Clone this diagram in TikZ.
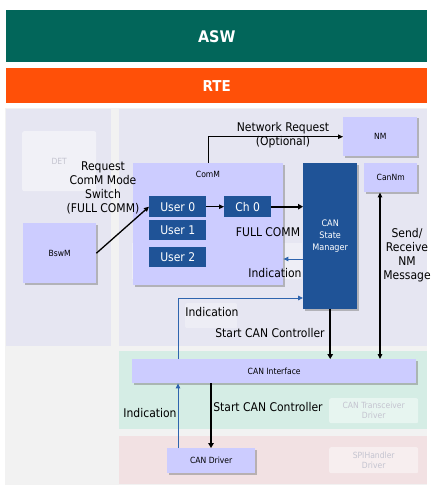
\documentclass[tikz,border=0pt]{standalone}
\usepackage{fontspec}
\setmainfont{DejaVu Sans Condensed}[BoldFont={DejaVu Sans Condensed Bold}]
\usetikzlibrary{arrows.meta,shadows}
\definecolor{aswc}{HTML}{02665A}
\definecolor{rtec}{HTML}{FF5008}
\definecolor{bgc}{HTML}{F2F2F2}
\definecolor{lav}{HTML}{E6E6F2}
\definecolor{grn}{HTML}{D5EDE5}
\definecolor{pnk}{HTML}{F2E1E3}
\definecolor{boxc}{HTML}{CCCCFF}
\definecolor{dblue}{HTML}{1F5397}
\definecolor{iblue}{HTML}{2E64AE}
\definecolor{fainttext}{HTML}{C4C4D0}
\begin{document}
\begin{tikzpicture}[x=1pt,y=-1pt,
  box/.style={fill=boxc, anchor=north west, inner sep=0pt, align=center,
    drop shadow={shadow xshift=1.3pt, shadow yshift=-1.3pt, fill=black!50, opacity=0.5},
    font=\fontsize{8.5}{10}\selectfont},
  dbox/.style={fill=dblue, text=white, anchor=north west, inner sep=0pt, align=center,
    font=\fontsize{12}{14}\selectfont},
  faint/.style={fill=white, fill opacity=0.45, text opacity=1, text=fainttext,
    rounded corners=2pt, anchor=north west, inner sep=0pt, align=center,
    font=\fontsize{8.5}{10}\selectfont},
  lbl/.style={font=\fontsize{12}{14}\selectfont, align=center, inner sep=0pt},
  blk/.style={draw=black, line width=1pt, -{Triangle[length=5pt,width=4.5pt]}},
  thk/.style={draw=black, line width=2pt, -{Triangle[length=5pt,width=5.5pt]}},
  ind/.style={draw=iblue, line width=0.9pt, -{Triangle[length=5pt,width=4.5pt]}}
]
\useasboundingbox (0,0) rectangle (437,497);
\fill[white] (0,0) rectangle (437,497);
% layers
\node[fill=aswc, anchor=north west, inner sep=0pt, minimum width=421pt, minimum height=52pt,
  text=white, font=\fontsize{16}{18}\selectfont\bfseries] (asw) at (6,10) {ASW};
\node[fill=rtec, anchor=north west, inner sep=0pt, minimum width=421pt, minimum height=35pt,
  text=white, font=\fontsize{15}{18}\selectfont\bfseries] (rte) at (6,68) {RTE};
\fill[bgc] (5,108) rectangle (427,485);
\fill[lav] (6,109) rectangle (111,346);
\fill[lav] (119,109) rectangle (427,346);
\fill[grn] (119,351) rectangle (427,429);
\fill[pnk] (119,436) rectangle (427,484);
% faint boxes
\node[faint, minimum width=74pt, minimum height=60pt] (det) at (22,131) {DET};
\fill[white, opacity=0.35] (132,243) rectangle (302,279);
\node[faint, fill opacity=0.3, text=fainttext!60, minimum width=52pt, minimum height=25pt] (cantp) at (185,303) {CAN Tp};
\node[faint, minimum width=89pt, minimum height=25pt] (cantrx) at (329,398) {CAN Transceiver\\Driver};
\node[faint, minimum width=89pt, minimum height=26pt] (spih) at (329,447) {SPIHandler\\Driver};
% boxes
\node[box, minimum width=73pt, minimum height=60pt] (bswm) at (23,223) {BswM};
\node[box, minimum width=150pt, minimum height=122pt] (comm) at (133,163) {};
\node[font=\fontsize{8.5}{10}\selectfont, inner sep=0pt] (commlbl) at (208,174) {ComM};
\node[dbox, minimum width=57pt, minimum height=21pt] (user0) at (149,196) {User 0};
\node[dbox, minimum width=57pt, minimum height=20pt] (user1) at (149,220) {User 1};
\node[dbox, minimum width=57pt, minimum height=20pt] (user2) at (149,247) {User 2};
\node[dbox, minimum width=47pt, minimum height=21pt] (ch0) at (224,196) {Ch 0};
\node[dbox, minimum width=54pt, minimum height=146pt, font=\fontsize{9}{12}\selectfont,
  drop shadow={shadow xshift=1.3pt, shadow yshift=-1.3pt, fill=black!50, opacity=0.5}] (cansm) at (303,163) {CAN\\State\\Manager};
\node[box, minimum width=74pt, minimum height=39pt] (nm) at (343,117) {NM};
\node[box, minimum width=53pt, minimum height=29pt] (cannm) at (364,163) {CanNm};
\node[box, minimum width=284pt, minimum height=24pt] (canif) at (132,359) {CAN Interface};
\node[box, minimum width=88pt, minimum height=25pt] (candrv) at (167,448) {CAN Driver};
% labels
\node[lbl] (lreq) at (103,188) {Request\\ComM Mode\\Switch\\(FULL COMM)};
\node[lbl] (lnet) at (283,135.5) {Network Request\\(Optional)};
\node[lbl] (lfull) at (268,232) {FULL COMM};
\node[lbl] (lind1) at (275,273) {Indication};
\node[lbl] (lind2) at (212,312) {Indication};
\node[lbl] (lstart1) at (270,333) {Start CAN Controller};
\node[lbl] (lsend) at (407,255) {Send/\\Receive\\NM\\Message};
\node[lbl] (lind3) at (150,413) {Indication};
\node[lbl] (lstart2) at (268,407) {Start CAN Controller};
% helper coordinates
\coordinate (x178) at (178,0);
\coordinate (x211) at (211,0);
\coordinate (x380) at (380,0);
\coordinate (y259) at (0,259);
\coordinate (y298) at (0,298);
% connectors
\draw[blk, line width=1.3pt] (bswm.east) -- (user0.west);
\draw[blk] (user0.east) -- (ch0.west);
\draw[thk] (ch0.east) -- (cansm.west |- ch0.east);
\draw[blk] (comm.north) |- (nm.west);
\draw[ind] (cansm.west |- y259) -- (comm.east |- y259);
\draw[ind] (canif.north -| x178) |- (cansm.west |- y298);
\draw[thk] (cansm.south) -- (cansm.south |- canif.north);
\draw[blk, line width=1.2pt, {Triangle[length=5pt,width=4.5pt]}-{Triangle[length=5pt,width=4.5pt]}] (cannm.south -| x380) -- (canif.north -| x380);
\draw[thk] (canif.south -| x211) -- (candrv.north -| x211);
\draw[ind] (candrv.north -| x178) -- (canif.south -| x178);
\end{tikzpicture}
\end{document}
